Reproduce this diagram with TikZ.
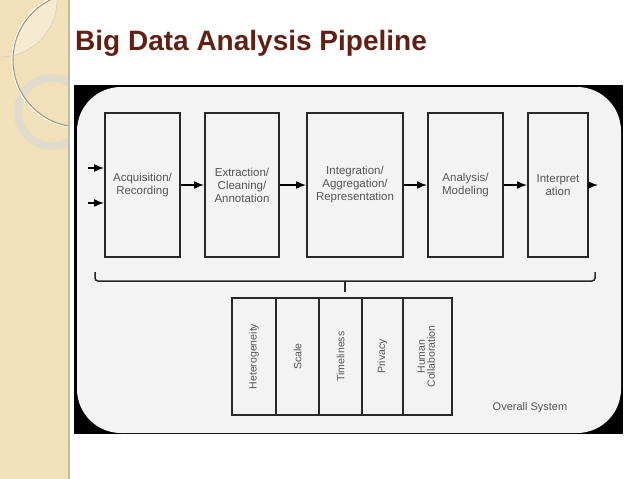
\documentclass[tikz,border=0pt]{standalone}
\usepackage{fontspec}
\setmainfont{Liberation Sans}
\usetikzlibrary{positioning,arrows.meta}
\definecolor{titlered}{RGB}{96,32,20}
\definecolor{stripbeige}{RGB}{242,225,184}
\definecolor{stripedge}{RGB}{196,184,160}
\definecolor{ringgray}{RGB}{222,218,208}
\definecolor{panelgray}{RGB}{243,243,243}
\definecolor{boxline}{RGB}{40,40,40}
\definecolor{labelgray}{RGB}{85,85,85}
\tikzset{
    stage/.style={draw=boxline, line width=2pt, minimum height=144pt, inner sep=1pt,
        align=center, text=labelgray, font=\fontsize{11.5}{13}\selectfont},
    issue/.style={draw=boxline, line width=2pt, minimum height=117pt, outer sep=0pt,
        inner sep=1pt, text=labelgray, font=\fontsize{10.5}{12}\selectfont},
    flow/.style={-{Latex[length=10pt,width=8pt]}, line width=1.5pt, black},
    brace/.style={draw=boxline, line width=1.5pt, rounded corners=3pt},
}
\begin{document}
\begin{tikzpicture}[x=1pt, y=-1pt]
\useasboundingbox (0,0) rectangle (638,479);

% side strip with rings
\begin{scope}
    \clip (0,0) rectangle (68,479);
    \fill[stripbeige] (0,0) rectangle (68,479);
    \begin{scope}
        \clip (80,60) circle (67pt);
        \fill[white, opacity=0.35] (0,0) circle (57pt);
    \end{scope}
    \draw[stripedge!70!white, line width=0.6pt] (0,0) circle (57pt);
    \draw[ringgray, line width=8pt, opacity=0.85] (52,112) circle (34pt);
    \draw[white, line width=1.2pt] (80,60) circle (68pt);
    \draw[stripedge!80!black, line width=1pt] (80,60) circle (67pt);
\end{scope}
\draw[stripedge, line width=1.2pt] (69,0) -- (69,479);

% title
\node[anchor=base west, text=titlered, font=\bfseries\fontsize{28}{30}\selectfont, inner sep=0pt]
    (title) at (75,50) {Big Data Analysis Pipeline};

% panel
\fill[black] (74,85) rectangle (623,434);
\fill[panelgray, rounded corners=44pt] (77,87) rectangle (621,433);

% pipeline stages
\node[stage, minimum width=75pt] (acq) at (142.5,185) {Acquisition/\\Recording};
\node[stage, minimum width=74pt, right=23pt of acq] (ext) {Extraction/\\Cleaning/\\Annotation};
\node[stage, minimum width=96pt, right=26pt of ext] (agg) {Integration/\\Aggregation/\\Representation};
\node[stage, minimum width=75pt, right=23pt of agg] (ana) {Analysis/\\Modeling};
\node[stage, minimum width=60pt, right=23pt of ana] (int) {Interpret\\ation};

\coordinate (in1) at (88,168);
\coordinate (in2) at (88,203);
\coordinate (out) at (598,185);

\draw[flow] (in1) -- (in1 -| acq.west);
\draw[flow] (in2) -- (in2 -| acq.west);
\draw[flow] (acq) -- (ext);
\draw[flow] (ext) -- (agg);
\draw[flow] (agg) -- (ana);
\draw[flow] (ana) -- (int);
\draw[flow] (int) -- (out);

% brace
\coordinate (bl) at (95,272);
\coordinate (br) at (595,272);
\coordinate (tick) at (345,281);
\draw[brace] (bl) -- ++(0,9) -| (br);
\draw[brace] (tick) -- ++(0,11);

% challenges
\node[issue, minimum width=44pt] (het) at (254,356.5) {\rotatebox{90}{Heterogeneity}};
\node[issue, minimum width=43pt, right=0pt of het] (sca) {\rotatebox{90}{Scale}};
\node[issue, minimum width=43pt, right=0pt of sca] (tim) {\rotatebox{90}{Timeliness}};
\node[issue, minimum width=41pt, right=0pt of tim] (pri) {\rotatebox{90}{Privacy}};
\node[issue, minimum width=49pt, right=0pt of pri] (hum)
    {\rotatebox{90}{\begin{tabular}{@{}c@{}}Human\\[-2pt]Collaboration\end{tabular}}};

\node[text=labelgray, font=\fontsize{11}{13}\selectfont] (sys) at (530,408) {Overall System};
\end{tikzpicture}
\end{document}
